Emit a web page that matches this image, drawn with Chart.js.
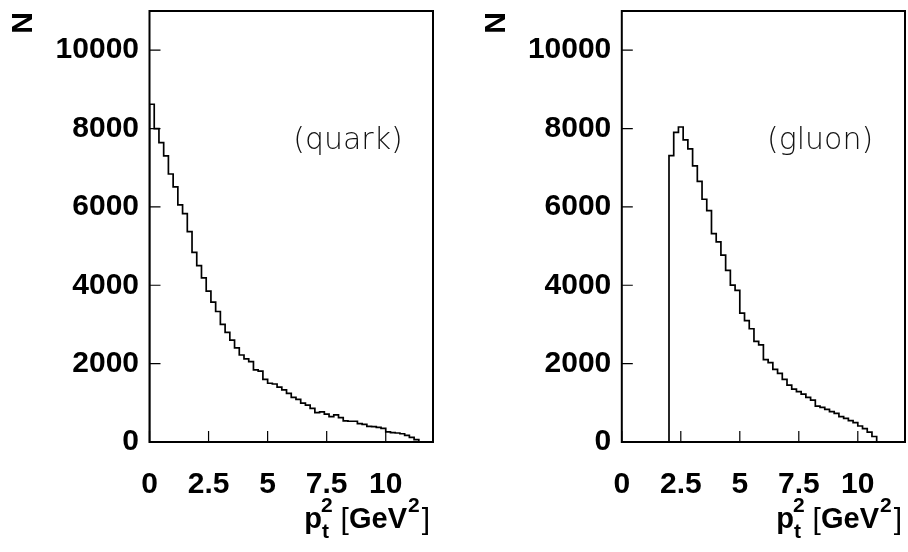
<!DOCTYPE html>
<html lang="en">
<head>
<meta charset="UTF-8">
<title>pt2 spectra, quark and gluon</title>
<script src="https://cdn.jsdelivr.net/npm/chart.js"></script>
<style>
    body { margin: 0; background: #fff; }
    .panel { position: absolute; top: 0; width: 454px; height: 552px; }
    #quarkPanel { left: 0; }
    #gluonPanel { left: 454px; }
</style>
</head>
<body>

<div class="panel" id="quarkPanel"><canvas id="quarkChart" width="454" height="552"></canvas></div>
<div class="panel" id="gluonPanel"><canvas id="gluonChart" width="454" height="552"></canvas></div>

<script>
// histogram binning (pt^2 in GeV^2)
const binWidth = 0.2;

const quarkStart = 0;
const quarkCounts = [
    8620, 8000, 7640, 7300, 6840, 6510, 6050, 5830, 5370, 4840,
    4500, 4190, 3850, 3570, 3330, 3000, 2800, 2600, 2400, 2220,
    2120, 2050, 1840, 1810, 1600, 1500, 1480, 1400, 1330, 1240,
    1140, 1090, 990, 940, 860, 750, 770, 710, 650, 690,
    620, 540, 530, 530, 470, 450, 400, 390, 375, 350,
    260, 240, 230, 210, 170, 120, 60
];

const gluonStart = 2.0;
const gluonCounts = [
    7310, 7900, 8040, 7710, 7480, 7045, 6650, 6195, 5905, 5320,
    5110, 4770, 4380, 4005, 3870, 3290, 3100, 2890, 2570, 2480,
    2100, 2024, 1854, 1752, 1599, 1454, 1352, 1284, 1224, 1139,
    1071, 918, 884, 833, 774, 731, 646, 604, 544, 493,
    408, 340, 250, 140
];

const xTicks = [0, 2.5, 5, 7.5, 10];
const yTicks = [0, 2000, 4000, 6000, 8000, 10000];
const xRange = [0, 12];
const yRange = [0, 11000];

const fontFamily = '"Liberation Sans", Arial, Helvetica, sans-serif';

// outline points of a step histogram
function histPoints(start, counts) {
    const pts = [{ x: start, y: 0 }];
    counts.forEach((c, i) => pts.push({ x: start + i * binWidth, y: c }));
    pts.push({ x: start + counts.length * binWidth, y: 0 });
    return pts;
}

// frame, inward ticks and texts
function decorPlugin(tag, nameX) {
    return {
        id: 'decor',
        afterDatasetsDraw(chart) {
            const { ctx, chartArea: a, scales: { x, y } } = chart;
            ctx.save();
            ctx.strokeStyle = '#000';
            ctx.lineWidth = 1.2;
            ctx.beginPath();
            yTicks.forEach(v => {
                const py = y.getPixelForValue(v);
                ctx.moveTo(a.left, py);
                ctx.lineTo(a.left + 11, py);
            });
            xTicks.forEach(v => {
                const px = x.getPixelForValue(v);
                ctx.moveTo(px, a.bottom);
                ctx.lineTo(px, a.bottom - 11);
            });
            ctx.stroke();

            ctx.lineWidth = 2;
            ctx.strokeRect(a.left, a.top, a.right - a.left, a.bottom - a.top);

            // (quark) / (gluon)
            ctx.fillStyle = '#111';
            ctx.font = '200 30px "DejaVu Sans", sans-serif';
            ctx.textAlign = 'center';
            ctx.textBaseline = 'alphabetic';
            ctx.fillText(tag, a.left + 0.7 * (a.right - a.left), a.top + 0.32 * (a.bottom - a.top));

            // y title, rotated
            ctx.fillStyle = '#000';
            ctx.font = 'bold 30px ' + fontFamily;
            ctx.save();
            ctx.translate(nameX, 23);
            ctx.rotate(-Math.PI / 2);
            ctx.textAlign = 'center';
            ctx.textBaseline = 'middle';
            ctx.fillText('N', 0, 0);
            ctx.restore();

            // x title: p_t^2 [GeV^2]
            const big = 'bold 29px ' + fontFamily;
            const small = 'bold 21px ' + fontFamily;
            const brk = '30px ' + fontFamily;
            const base = 528;
            ctx.textAlign = 'left';
            ctx.font = big;
            const wp = ctx.measureText('p').width;
            const ws = ctx.measureText(' ').width;
            const wg = ctx.measureText('GeV').width;
            ctx.font = brk;
            const wb = ctx.measureText('[').width;
            ctx.font = small;
            const w2 = ctx.measureText('2').width;
            const total = wp - 1 + w2 + ws + wb + wg + w2 + 3 + wb;
            let cx = a.right - 3 - total;
            ctx.font = big;
            ctx.fillText('p', cx, base);
            cx += wp - 1;
            ctx.font = small;
            ctx.fillText('2', cx, base - 16);
            ctx.fillText('t', cx + 1, base + 10);
            cx += w2 + ws;
            ctx.font = brk;
            ctx.fillText('[', cx, base + 1);
            cx += wb;
            ctx.font = big;
            ctx.fillText('GeV', cx, base);
            cx += wg;
            ctx.font = small;
            ctx.fillText('2', cx + 1, base - 16);
            cx += w2 + 3;
            ctx.font = brk;
            ctx.fillText(']', cx, base + 1);
            ctx.restore();
        }
    };
}

function createPanel(canvasId, start, counts, tag, yWidth, padRight, nameX) {
    const tickFont = { family: fontFamily, size: 30, weight: 'bold' };
    return new Chart(document.getElementById(canvasId), {
        type: 'line',
        data: {
            datasets: [{
                data: histPoints(start, counts),
                stepped: true,
                borderColor: '#000',
                borderWidth: 1.7,
                pointRadius: 0,
                fill: false
            }]
        },
        options: {
            responsive: false,
            animation: false,
            layout: { padding: { top: 11, right: padRight, left: 0, bottom: 0 } },
            plugins: {
                legend: { display: false },
                tooltip: { enabled: false }
            },
            scales: {
                x: {
                    type: 'linear',
                    min: xRange[0],
                    max: xRange[1],
                    grid: { display: false },
                    border: { display: false },
                    afterBuildTicks: s => { s.ticks = xTicks.map(v => ({ value: v })); },
                    afterFit: s => { s.height = 110; s.paddingLeft = 0; s.paddingRight = 0; },
                    ticks: {
                        font: tickFont,
                        color: '#000',
                        padding: 17,
                        maxRotation: 0,
                        autoSkip: false,
                        callback: v => String(v)
                    }
                },
                y: {
                    type: 'linear',
                    min: yRange[0],
                    max: yRange[1],
                    grid: { display: false },
                    border: { display: false },
                    afterBuildTicks: s => { s.ticks = yTicks.map(v => ({ value: v })); },
                    afterFit: s => { s.width = yWidth; s.paddingTop = 0; s.paddingBottom = 0; },
                    ticks: {
                        font: tickFont,
                        color: '#000',
                        padding: 2.5,
                        callback: v => String(v)
                    }
                }
            }
        },
        plugins: [decorPlugin(tag, nameX)]
    });
}

createPanel('quarkChart', quarkStart, quarkCounts, '(quark)', 149.5, 21, 24);
createPanel('gluonChart', gluonStart, gluonCounts, '(gluon)', 167.8, 3, 43);
</script>

</body>
</html>
